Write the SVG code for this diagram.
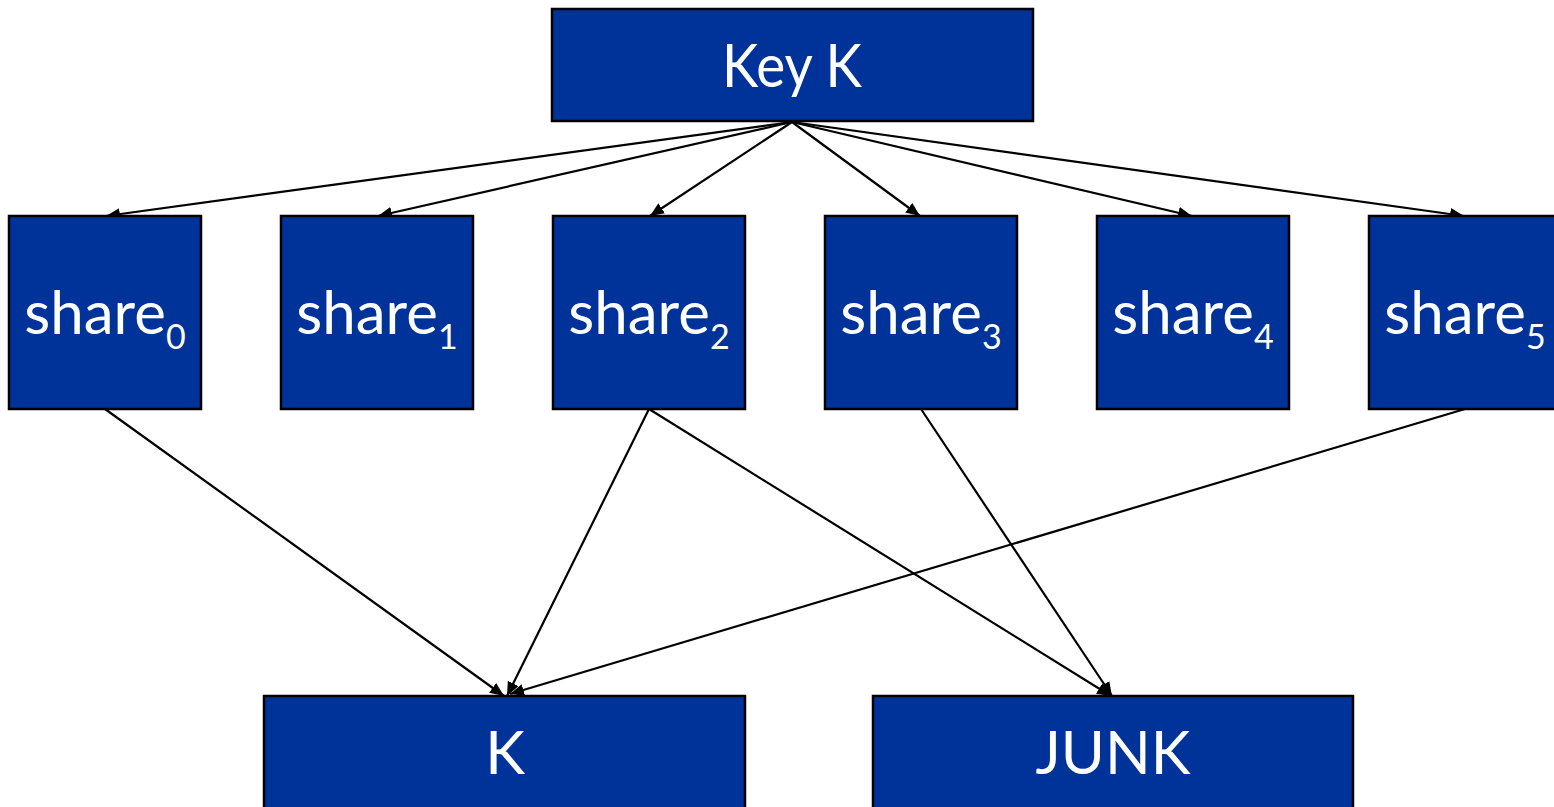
<svg xmlns="http://www.w3.org/2000/svg" width="1554" height="807" viewBox="0 0 1554 807">
<style>
.box{fill:#003399;stroke:#000;stroke-width:2.5}
.t{fill:#fff;font-family:Lato,"Liberation Sans",sans-serif;font-size:60px;text-anchor:middle}
.sub{font-size:34px}
.c{stroke:#000;stroke-width:2.2;fill:none;marker-end:url(#ah)}
</style>
<defs>
<marker id="ah" markerUnits="userSpaceOnUse" markerWidth="16" markerHeight="12" refX="14" refY="6" orient="auto">
<path d="M0,0 L14,6 L0,12 Z" fill="#000"/>
</marker>
</defs>
<g id="connectors">
<line class="c" x1="792" y1="122" x2="106" y2="216"/>
<line class="c" x1="792" y1="122" x2="378" y2="216"/>
<line class="c" x1="792" y1="122" x2="650" y2="216"/>
<line class="c" x1="792" y1="122" x2="920" y2="216"/>
<line class="c" x1="792" y1="122" x2="1192" y2="216"/>
<line class="c" x1="792" y1="122" x2="1464" y2="216"/>
<line class="c" x1="105" y1="409" x2="504" y2="696"/>
<line class="c" x1="649" y1="409" x2="507" y2="696"/>
<line class="c" x1="1465" y1="409" x2="510" y2="694"/>
<line class="c" x1="649" y1="409" x2="1111" y2="696"/>
<line class="c" x1="921" y1="409" x2="1112" y2="696"/>
</g>
<g id="keyK">
<rect class="box" x="552" y="9" width="481" height="112"/>
<text class="t" x="792" y="87" textLength="140" lengthAdjust="spacingAndGlyphs">Key K</text>
</g>
<g id="share0">
<rect class="box" x="9" y="216" width="192" height="193"/>
<text class="t" x="105" y="334">share<tspan class="sub" dy="15">0</tspan></text>
</g>
<g id="share1">
<rect class="box" x="281" y="216" width="192" height="193"/>
<text class="t" x="377" y="334">share<tspan class="sub" dy="15">1</tspan></text>
</g>
<g id="share2">
<rect class="box" x="553" y="216" width="192" height="193"/>
<text class="t" x="649" y="334">share<tspan class="sub" dy="15">2</tspan></text>
</g>
<g id="share3">
<rect class="box" x="825" y="216" width="192" height="193"/>
<text class="t" x="921" y="334">share<tspan class="sub" dy="15">3</tspan></text>
</g>
<g id="share4">
<rect class="box" x="1097" y="216" width="192" height="193"/>
<text class="t" x="1193" y="334">share<tspan class="sub" dy="15">4</tspan></text>
</g>
<g id="share5">
<rect class="box" x="1369" y="216" width="192" height="193"/>
<text class="t" x="1465" y="334">share<tspan class="sub" dy="15">5</tspan></text>
</g>
<g id="K">
<rect class="box" x="264" y="696" width="481" height="120"/>
<text class="t" x="505" y="774">K</text>
</g>
<g id="JUNK">
<rect class="box" x="873" y="696" width="480" height="120"/>
<text class="t" x="1113" y="774">JUNK</text>
</g>
</svg>
